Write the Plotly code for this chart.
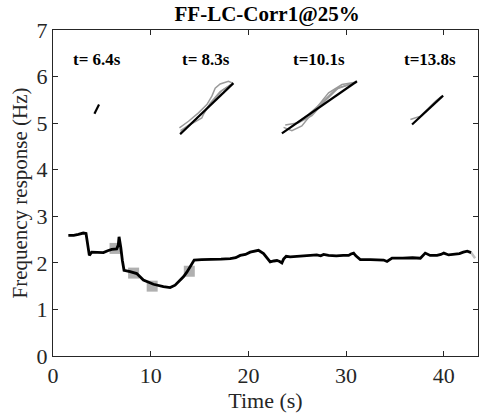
import plotly.graph_objects as go

# ---- main frequency-response trace ----
time_s = [1.57, 2.12, 2.6, 3.1, 3.38, 3.55, 3.72, 3.96, 4.5, 5.16, 5.6, 6.01, 6.52, 6.68, 6.76, 6.85, 6.94,
          7.1, 7.27, 7.89, 8.57, 9.25, 9.8, 10.28, 11.3, 11.99, 12.5, 12.9, 13.35, 13.7, 14.04, 14.45,
          15.2, 16.09, 17.2, 18.14, 18.7, 19.16, 19.7, 20.18, 20.6, 21.03, 21.55, 21.9, 22.23, 22.6, 22.92,
          23.2, 23.43, 23.6, 23.87, 24.28, 25.0, 25.8, 26.67, 27.0, 27.4, 27.7, 28.2, 29.0, 29.7, 30.26,
          30.5, 30.77, 31.0, 31.45, 32.5, 33.84, 34.19, 34.7, 35.8, 36.8, 37.6, 37.9, 38.1, 38.6, 39.3,
          39.7, 40.0, 40.5, 41.0, 41.6, 42.0, 42.4, 42.8]
freq_hz = [2.59, 2.59, 2.61, 2.64, 2.63, 2.40, 2.16, 2.23, 2.22, 2.22, 2.26, 2.29, 2.30, 2.38, 2.56, 2.45, 2.33,
           2.05, 1.84, 1.81, 1.77, 1.63, 1.58, 1.54, 1.49, 1.47, 1.52, 1.60, 1.70, 1.80, 1.91, 2.06,
           2.07, 2.07, 2.08, 2.09, 2.11, 2.16, 2.18, 2.23, 2.25, 2.27, 2.20, 2.10, 2.02, 2.04, 2.05,
           2.03, 2.00, 2.08, 2.14, 2.13, 2.14, 2.15, 2.16, 2.17, 2.15, 2.18, 2.16, 2.15, 2.16, 2.16,
           2.19, 2.21, 2.15, 2.07, 2.07, 2.06, 2.03, 2.10, 2.10, 2.11, 2.10, 2.16, 2.21, 2.16, 2.16,
           2.18, 2.21, 2.17, 2.18, 2.20, 2.23, 2.25, 2.22]
tail_time = [42.8, 43.2]
tail_freq = [2.22, 2.10]

# ---- estimated frequency at the four windows (grey squares) ----
win_time = [6.35, 8.25, 10.15, 13.95]
win_freq = [2.31, 1.78, 1.50, 1.82]

# ---- annotations ----
label_text = ["t= 6.4s", "t= 8.3s", "t=10.1s", "t=13.8s"]
label_x = [4.53, 15.66, 27.18, 38.59]
label_y = [6.36, 6.36, 6.36, 6.36]

# ---- inset fits (black) ----
fit_x = [[4.24, 4.71], [13.01, 18.47], [23.43, 31.11], [36.75, 39.93]]
fit_y = [[5.20, 5.40], [4.76, 5.86], [4.78, 5.90], [4.97, 5.59]]

# ---- inset individual curves (grey) ----
grey_x = [
    [12.94, 13.87, 14.89, 15.75, 16.26, 16.60, 17.11, 17.96, 18.41],
    [13.01, 14.04, 15.23, 15.40, 16.09, 17.11, 18.31],
    [13.05, 14.2, 15.1, 15.6, 16.4, 17.3, 18.35],
    [23.60, 24.45, 25.47, 26.84, 28.21, 29.58, 30.94],
    [23.60, 24.80, 26.16, 27.53, 28.89, 30.26, 31.11],
    [23.77, 25.13, 26.50, 27.87, 29.23, 30.77],
    [36.58, 37.60, 38.29, 39.14, 39.80],
]
grey_y = [
    [4.90, 5.04, 5.22, 5.40, 5.58, 5.75, 5.84, 5.90, 5.86],
    [4.79, 4.97, 5.11, 5.19, 5.43, 5.68, 5.84],
    [4.84, 5.00, 5.18, 5.27, 5.48, 5.70, 5.85],
    [4.91, 4.84, 4.94, 5.30, 5.65, 5.83, 5.88],
    [4.80, 4.98, 5.19, 5.44, 5.72, 5.83, 5.88],
    [4.96, 5.01, 5.16, 5.48, 5.76, 5.85],
    [5.08, 5.15, 5.29, 5.47, 5.58],
]

FONT = "Liberation Serif, Times New Roman, serif"
fig = go.Figure()

for gx, gy in zip(grey_x, grey_y):
    fig.add_trace(go.Scatter(x=gx, y=gy, mode="lines", line=dict(color="#9a9a9a", width=1.5),
                             showlegend=False, hoverinfo="skip"))
for fx, fy in zip(fit_x, fit_y):
    fig.add_trace(go.Scatter(x=fx, y=fy, mode="lines", line=dict(color="black", width=2.2),
                             showlegend=False))

fig.add_trace(go.Scatter(x=win_time, y=win_freq, mode="markers",
                         marker=dict(symbol="square", size=11, color="#b0b0b0", line=dict(width=0)),
                         showlegend=False))
fig.add_trace(go.Scatter(x=tail_time, y=tail_freq, mode="lines", line=dict(color="#c0c0c0", width=2.5),
                         showlegend=False))
fig.add_trace(go.Scatter(x=time_s, y=freq_hz, mode="lines", line=dict(color="black", width=2.8),
                         showlegend=False))

for t, x, y in zip(label_text, label_x, label_y):
    fig.add_annotation(x=x, y=y, text="<b>" + t + "</b>", showarrow=False,
                       font=dict(family=FONT, size=17, color="black"), xanchor="center", yanchor="middle")

axis_common = dict(showline=True, linecolor="#262626", linewidth=1, mirror="ticks", ticks="inside",
                   ticklen=5, tickcolor="#262626", showgrid=False, zeroline=False,
                   tickfont=dict(family=FONT, size=22, color="#262626"))

fig.update_layout(
    width=483, height=420,
    margin=dict(l=53, r=5, t=30, b=64),
    paper_bgcolor="white", plot_bgcolor="white",
    title=dict(text="<b>FF-LC-Corr1@25%</b>", x=0.553, xanchor="center", y=0.985, yanchor="top",
               font=dict(family=FONT, size=21, color="black")),
    xaxis=dict(range=[0, 43.5], tickvals=[0, 10, 20, 30, 40], title=dict(text="Time (s)", standoff=2,
               font=dict(family=FONT, size=22, color="#262626")), **axis_common),
    yaxis=dict(range=[0, 7], tickvals=[0, 1, 2, 3, 4, 5, 6, 7], title=dict(text="Frequency response (Hz)",
               standoff=3, font=dict(family=FONT, size=21, color="#262626")), **axis_common),
)

fig.write_html("out.html")
